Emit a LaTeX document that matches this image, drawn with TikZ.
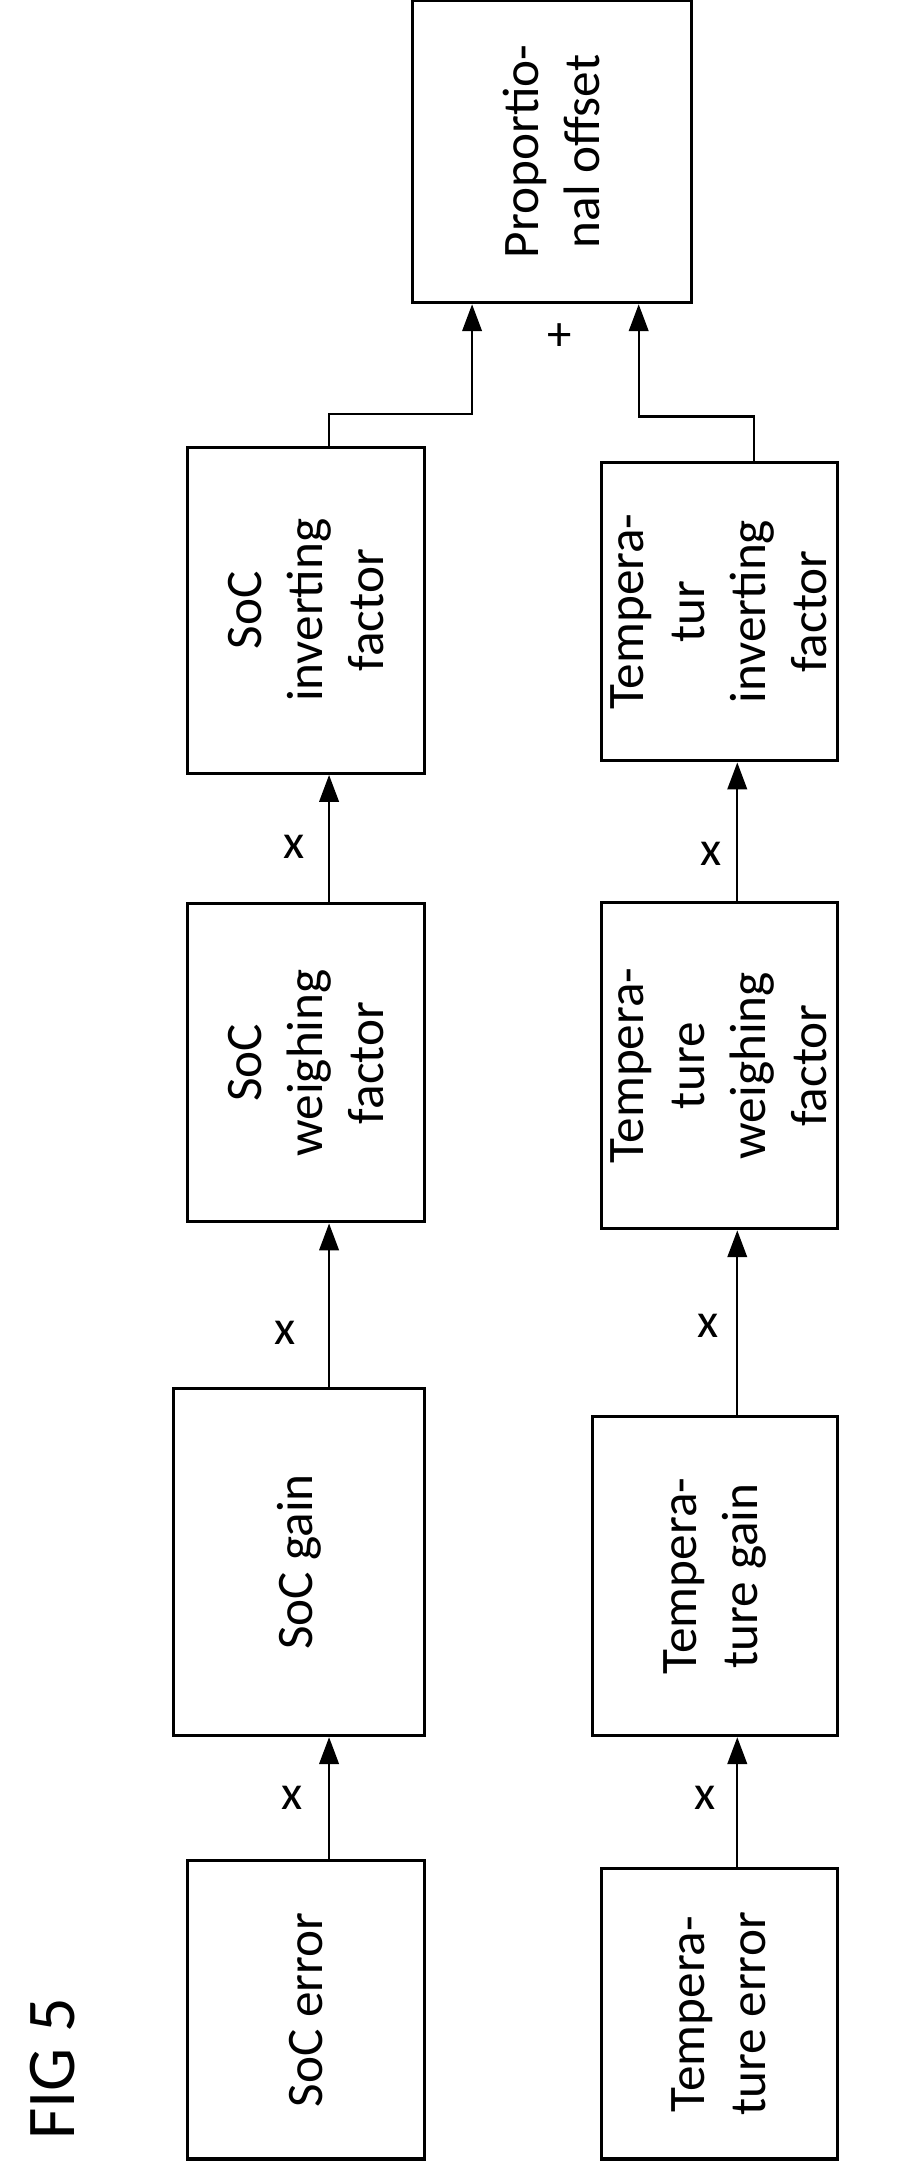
\documentclass[tikz,border=0pt]{standalone}
\usepackage{fontspec}
\setmainfont{Carlito}
\usetikzlibrary{arrows.meta,positioning}

\begin{document}
\begin{tikzpicture}[x=0.02cm,y=-0.02cm,
	box/.style={draw,line width=1.3pt,inner sep=0pt},
	lbl/.style={rotate=90,align=center,font=\fontsize{21}{25}\selectfont},
	flow/.style={line width=0.9pt,-{Triangle[length=11pt,width=8pt]}},
	op/.style={font=\fontsize{20}{22}\selectfont}]
	\useasboundingbox (0,0) rectangle (660,1560);

	% output
	\node[box,minimum width=201*0.02cm,minimum height=218*0.02cm] (off) at (397.5,109) {};
	\node[lbl] at (off) {Propor\-tio-\\nal offset};

	% SoC branch
	\node[box,minimum width=171*0.02cm,minimum height=235*0.02cm] (sinv) at (220.5,439.5) {};
	\node[box,minimum width=171*0.02cm,minimum height=229*0.02cm] (sweigh) at (220.5,765.5) {};
	\node[box,minimum width=181*0.02cm,minimum height=250*0.02cm] (sgain) at (215.5,1125) {};
	\node[box,minimum width=171*0.02cm,minimum height=215*0.02cm] (serr) at (220.5,1447.5) {};
	\node[lbl] at (sinv) {SoC\\inverting\\factor};
	\node[lbl] at (sweigh) {SoC\\weighing\\factor};
	\node[lbl] at (sgain) {SoC gain};
	\node[lbl] at (serr) {SoC error};

	% temperature branch
	\node[box,minimum width=170*0.02cm,minimum height=215*0.02cm] (tinv) at (518,440.5) {};
	\node[box,minimum width=170*0.02cm,minimum height=235*0.02cm] (tweigh) at (518,767.5) {};
	\node[box,minimum width=176*0.02cm,minimum height=230*0.02cm] (tgain) at (515,1135) {};
	\node[box,minimum width=170*0.02cm,minimum height=209*0.02cm] (terr) at (518,1450.5) {};
	\node[lbl] at (tinv) {Tempera-\\tur\\inverting\\factor};
	\node[lbl] at (tweigh) {Tempera-\\ture\\weighing\\factor};
	\node[lbl] at (tgain) {Tempera-\\ture gain};
	\node[lbl] at (terr) {Tempera-\\ture error};

	\coordinate (scol) at (237,0);
	\coordinate (tcol) at (531,0);
	\coordinate (sbend) at (237,298);
	\coordinate (tbend) at (543,300);
	\coordinate (sin) at (340,0);
	\coordinate (tin) at (460,0);

	\draw[flow] (serr.north -| scol) -- (sgain.south -| scol);
	\draw[flow] (sgain.north -| scol) -- (sweigh.south -| scol);
	\draw[flow] (sweigh.north -| scol) -- (sinv.south -| scol);
	\draw[flow] (sinv.north -| sbend) -- (sbend) -| (off.south -| sin);
	\draw[flow] (terr.north -| tcol) -- (tgain.south -| tcol);
	\draw[flow] (tgain.north -| tcol) -- (tweigh.south -| tcol);
	\draw[flow] (tweigh.north -| tcol) -- (tinv.south -| tcol);
	\draw[flow] (tinv.north -| tbend) -- (tbend) -| (off.south -| tin);

	\node[op] (m1) at (210,1295) {x};
	\node[op] (m2) at (205,960) {x};
	\node[op] (m3) at (212,610) {x};
	\node[op] (m4) at (508,1295) {x};
	\node[op] (m5) at (510,955) {x};
	\node[op] (m6) at (512,615) {x};
	\node[op] (plus) at (403,243) {+};

	\node[rotate=90,font=\fontsize{28}{30}\selectfont] (fig) at (38,1490) {FIG 5};
\end{tikzpicture}
\end{document}
